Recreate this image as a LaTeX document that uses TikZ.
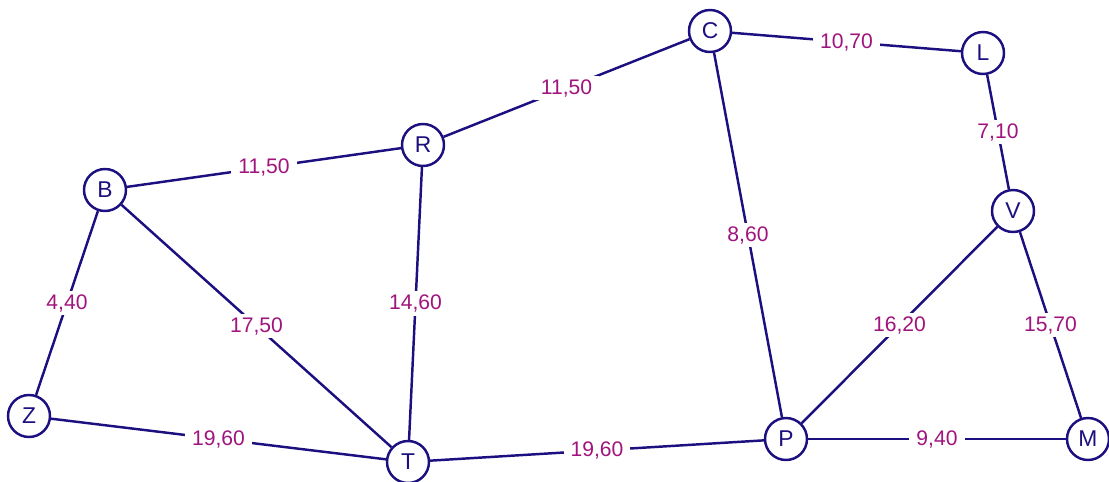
\documentclass[tikz,border=0pt]{standalone}
\usepackage{fontspec}
\setmainfont{Liberation Sans}
\usepackage{tikz}
\usetikzlibrary{positioning}
\definecolor{edgeblue}{RGB}{28, 16, 128}
\definecolor{costmagenta}{RGB}{160, 20, 125}
\tikzstyle{city} = [circle, draw=edgeblue, fill=white, text=edgeblue, line width=1.4pt, minimum size=0.84cm, inner sep=0pt, font=\fontsize{13}{15}\selectfont]
\tikzstyle{road} = [draw=edgeblue, line width=1.4pt]
\tikzstyle{cost} = [fill=white, text=costmagenta, inner xsep=4pt, inner ysep=2pt, font=\fontsize{12}{14}\selectfont, midway]

\begin{document}
\begin{tikzpicture}[x=0.02cm, y=-0.02cm]
    \useasboundingbox (0,0) rectangle (1109,481);

    % Cities
    \node[city] (B) at (105, 190) {B};
    \node[city] (R) at (423, 145) {R};
    \node[city] (C) at (710, 31) {C};
    \node[city] (L) at (983, 53) {L};
    \node[city] (V) at (1013, 211) {V};
    \node[city] (Z) at (29, 416) {Z};
    \node[city] (T) at (408, 462) {T};
    \node[city] (P) at (786, 439) {P};
    \node[city] (M) at (1088, 439) {M};

    % Roads
    \draw[road] (B) -- node[cost] {11,50} (R);
    \draw[road] (R) -- node[cost] {11,50} (C);
    \draw[road] (C) -- node[cost] {10,70} (L);
    \draw[road] (L) -- node[cost] {7,10} (V);
    \draw[road] (C) -- node[cost] {8,60} (P);
    \draw[road] (B) -- node[cost] {4,40} (Z);
    \draw[road] (B) -- node[cost] {17,50} (T);
    \draw[road] (R) -- node[cost] {14,60} (T);
    \draw[road] (V) -- node[cost] {16,20} (P);
    \draw[road] (V) -- node[cost] {15,70} (M);
    \draw[road] (Z) -- node[cost] {19,60} (T);
    \draw[road] (T) -- node[cost] {19,60} (P);
    \draw[road] (P) -- node[cost] {9,40} (M);
\end{tikzpicture}
\end{document}
